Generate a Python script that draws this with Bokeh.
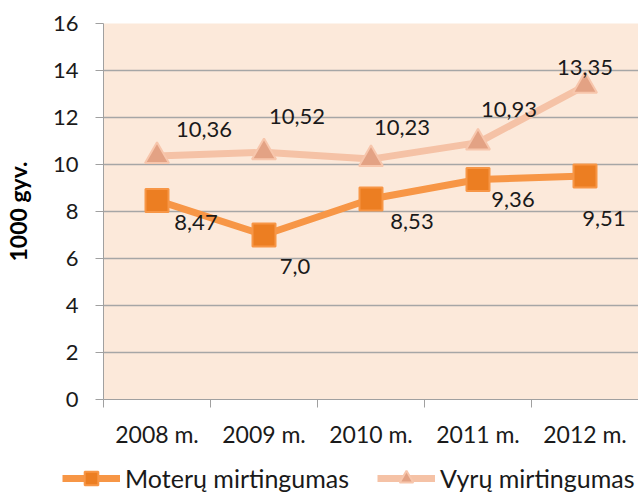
from bokeh.plotting import figure
from bokeh.models import (ColumnDataSource, FixedTicker, Range1d, Legend, LegendItem)
from bokeh.core.properties import value
from bokeh.embed import file_html
from bokeh.resources import INLINE

# ---- data ----
categories = ["2008 m.", "2009 m.", "2010 m.", "2011 m.", "2012 m."]
moteru = [8.47, 7.0, 8.53, 9.36, 9.51]
vyru = [10.36, 10.52, 10.23, 10.93, 13.35]
moteru_labels = ["8,47", "7,0", "8,53", "9,36", "9,51"]
vyru_labels = ["10,36", "10,52", "10,23", "10,93", "13,35"]
y_ticks = [0, 2, 4, 6, 8, 10, 12, 14, 16]
series_names = ["Moterų mirtingumas", "Vyrų mirtingumas"]

# ---- label placement (styling) ----
m_dx = [39, 31, 41, 35, 19]
m_dy = [22, 31, 22, 20, 42]
v_dx = [47, 33, 31, 31, 0]
v_dy = [-27, -36, -32, -33, -18]

FONT = "Lato"
TXT = "#1a1a1a"
FS = "22px"

M_LINE = dict(line_color="#F79646", line_width=7)
M_MARK = dict(marker="square", size=23, fill_color="#EC7E22",
              line_color="#F79646", line_width=2)
V_LINE = dict(line_color="#F5C2A6", line_width=7)
V_MARK = dict(marker="triangle", size=24, fill_color="#E3A284",
              line_color="#F7C6AC", line_width=2)

xs = [i + 0.5 for i in range(len(categories))]

p = figure(width=638, height=450, output_backend="svg", toolbar_location=None,
           x_range=Range1d(0, len(categories)), y_range=Range1d(0, 16),
           min_border_left=100, min_border_right=0, min_border_top=23,
           min_border_bottom=49,
           background_fill_color="#FCE9DA", border_fill_color="white",
           outline_line_color=None)

# grid
p.xgrid.grid_line_color = None
p.ygrid.grid_line_color = "#A6A6A6"
p.ygrid.grid_line_width = 1.3
p.ygrid.ticker = FixedTicker(ticks=y_ticks)

# y axis
p.yaxis.ticker = FixedTicker(ticks=y_ticks)
p.yaxis.axis_line_color = "#A0A0A0"
p.yaxis.major_tick_line_color = "#A0A0A0"
p.yaxis.major_tick_out = 8
p.yaxis.major_tick_in = 0
p.yaxis.minor_tick_line_color = None
p.yaxis.major_label_text_font = FONT
p.yaxis.major_label_text_font_size = FS
p.yaxis.major_label_text_color = TXT
p.yaxis.major_label_standoff = 17
p.yaxis.axis_label = "1000 gyv."
p.yaxis.axis_label_text_font = FONT
p.yaxis.axis_label_text_font_style = "bold"
p.yaxis.axis_label_text_font_size = "23px"
p.yaxis.axis_label_text_color = "#000000"
p.yaxis.axis_label_standoff = 18

# x axis: labels at category centres, ticks at boundaries
p.xaxis.ticker = FixedTicker(ticks=xs, minor_ticks=list(range(len(categories) + 1)))
p.xaxis.major_label_overrides = {x: c for x, c in zip(xs, categories)}
p.xaxis.axis_line_color = "#A0A0A0"
p.xaxis.major_tick_line_color = None
p.xaxis.minor_tick_line_color = "#A0A0A0"
p.xaxis.minor_tick_out = 8
p.xaxis.minor_tick_in = 0
p.xaxis.major_label_text_font = FONT
p.xaxis.major_label_text_font_size = "23px"
p.xaxis.major_label_text_color = TXT
p.xaxis.major_label_standoff = 12

src_m = ColumnDataSource(dict(x=xs, y=moteru, t=moteru_labels, dx=m_dx, dy=m_dy))
src_v = ColumnDataSource(dict(x=xs, y=vyru, t=vyru_labels, dx=v_dx, dy=v_dy))

p.line("x", "y", source=src_m, **M_LINE)
p.scatter("x", "y", source=src_m, **M_MARK)
p.line("x", "y", source=src_v, **V_LINE)
p.scatter("x", "y", source=src_v, **V_MARK)

for src in (src_m, src_v):
    p.text("x", "y", text="t", source=src, x_offset="dx", y_offset="dy",
           text_align="center", text_baseline="middle",
           text_font=value(FONT), text_font_size=FS, text_color=TXT)

# ---- legend strip below the chart (series drawn out of view, legend only) ----
lg = figure(width=638, height=45, output_backend="svg", toolbar_location=None,
            x_range=Range1d(0, len(categories)), y_range=Range1d(100, 101),
            x_axis_location=None, y_axis_location=None,
            min_border=0, outline_line_color=None, border_fill_color="white",
            background_fill_color="white")
lg.grid.visible = False
lm = lg.line("x", "y", source=src_m, **M_LINE)
mm = lg.scatter("x", "y", source=src_m, **M_MARK)
lv = lg.line("x", "y", source=src_v, **V_LINE)
mv = lg.scatter("x", "y", source=src_v, **V_MARK)

legend = Legend(items=[
    LegendItem(label=series_names[0], renderers=[lm, mm]),
    LegendItem(label=series_names[1], renderers=[lv, mv]),
], orientation="horizontal", location=(62, 0),
    glyph_width=58, glyph_height=34, spacing=28, padding=0, margin=0,
    label_text_font=FONT, label_text_font_size="25px", label_text_color=TXT,
    label_standoff=5, label_height=26, border_line_color=None,
    background_fill_alpha=0)
lg.add_layout(legend)

open("out.html", "w").write(file_html([p, lg], INLINE))
